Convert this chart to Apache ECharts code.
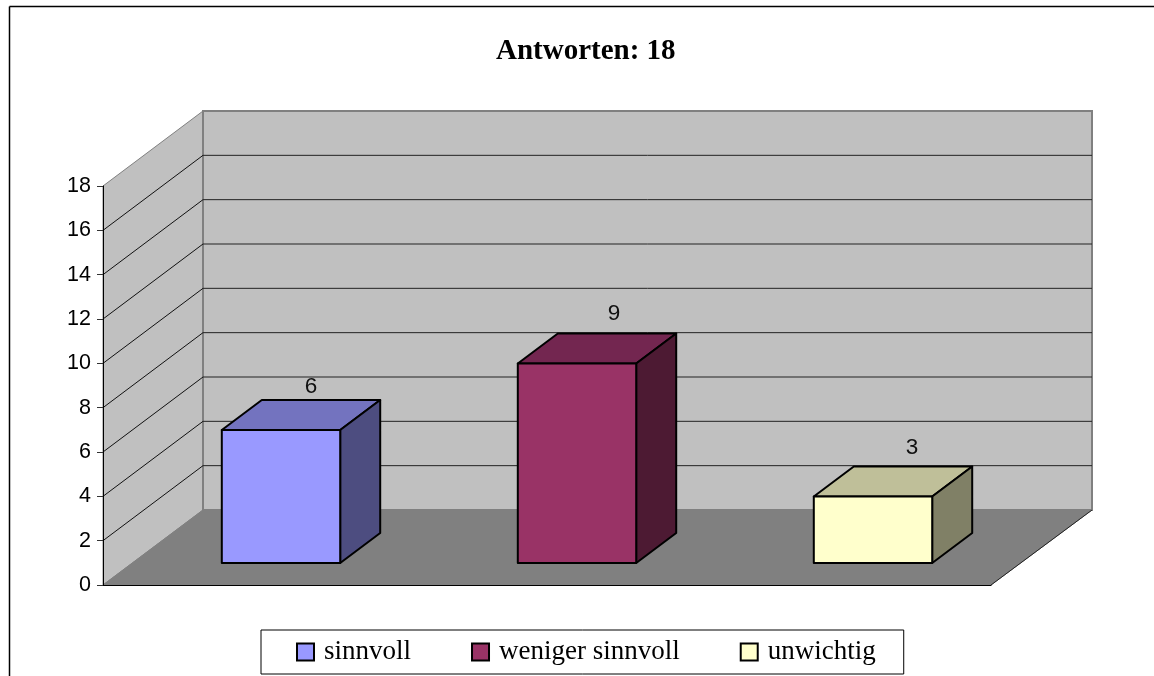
<!DOCTYPE html>
<html>
<head>
<meta charset="utf-8">
<title>Antworten: 18</title>
<style>
  html, body { margin: 0; padding: 0; background: #fff; overflow: hidden; }
  #chart { width: 1154px; height: 676px; }
</style>
<script src="https://cdn.jsdelivr.net/npm/echarts@6/dist/echarts.min.js"></script>
</head>
<body>
<div id="chart"></div>
<script>
const categories = ['sinnvoll', 'weniger sinnvoll', 'unwichtig'];
const answers = [6, 9, 3];
const barColors = ['#9999ff', '#993366', '#ffffcc'];
const barTops = ['#7373bf', '#732650', '#bfbf99'];
const barSides = ['#4d4d80', '#4d1a33', '#808066'];
const yTicks = [2, 4, 6, 8, 10, 12, 14, 16, 18];

// depth of the fake 3d box, in pixels
const DEPTH_X = 100;
const DEPTH_Y = -75;
// the value labels do not sit at the same spot on every bar
const LABEL_SHIFT = [[30, -13], [37, -20], [39, -19]];

function renderWalls(params, api) {
  const a = api.coord([0, 0]);
  const band = api.size([1, 0])[0];
  const left = a[0] - band / 2;
  const right = left + band * categories.length;
  const bottom = a[1];
  const top = api.coord([0, 18])[1];
  const backL = left + DEPTH_X;
  const backR = right + DEPTH_X + 1;
  const backB = bottom + DEPTH_Y;
  const backT = top + DEPTH_Y;
  return {
    type: 'group',
    children: [
      { type: 'polygon', shape: { points: [[left, top], [backL, backT], [backL, backB], [left, bottom]] },
        style: { fill: '#c0c0c0', stroke: '#808080', lineWidth: 1 } },
      { type: 'polygon', shape: { points: [[backL, backT], [backR, backT], [backR, backB], [backL, backB]] },
        style: { fill: '#c0c0c0', stroke: '#808080', lineWidth: 2 } },
      { type: 'polygon', shape: { points: [[left, bottom], [backL, backB], [backR, backB], [right, bottom]] },
        style: { fill: '#808080', stroke: '#808080', lineWidth: 1 } },
      { type: 'line', shape: { x1: right, y1: bottom, x2: backR, y2: backB },
        style: { stroke: '#222', lineWidth: 1 } }
    ]
  };
}

function renderGridLine(params, api) {
  const v = api.value(0);
  const p = api.coord([0, v]);
  const band = api.size([1, 0])[0];
  const left = p[0] - band / 2;
  const backL = left + DEPTH_X;
  const backR = left + band * categories.length + DEPTH_X + 1;
  const backY = p[1] + DEPTH_Y;
  const children = [];
  if (v < 18) {
    children.push({ type: 'line', shape: { x1: left, y1: p[1], x2: backL, y2: backY }, style: { stroke: '#111', lineWidth: 1 } });
    children.push({ type: 'line', shape: { x1: backL, y1: backY, x2: backR, y2: backY }, style: { stroke: '#222', lineWidth: 1 } });
  }
  return { type: 'group', children: children };
}

function renderBar(idx) {
  return function (params, api) {
    const top = api.coord([api.value(0), api.value(1)]);
    const zero = api.coord([api.value(0), 0]);
    const band = api.size([1, 0])[0];
    const w = band * 0.4;
    const x1 = top[0] - w / 2 + 30;
    const x2 = x1 + w;
    const yT = top[1] - 22;
    const yB = zero[1] - 22;
    const dx = 40;
    const dy = -30;
    const line = { stroke: '#000', lineWidth: 2, lineJoin: 'round' };
    return {
      type: 'group',
      children: [
        { type: 'polygon', shape: { points: [[x1, yT], [x1 + dx, yT + dy], [x2 + dx, yT + dy], [x2, yT]] },
          style: Object.assign({ fill: barTops[idx] }, line) },
        { type: 'polygon', shape: { points: [[x2, yT], [x2 + dx, yT + dy], [x2 + dx, yB + dy], [x2, yB]] },
          style: Object.assign({ fill: barSides[idx] }, line) },
        { type: 'rect', shape: { x: x1, y: yT, width: w, height: yB - yT },
          style: Object.assign({ fill: barColors[idx] }, line) },
        { type: 'text', x: (x1 + x2) / 2 + LABEL_SHIFT[idx][0], y: yT + dy + LABEL_SHIFT[idx][1],
          style: { text: String(api.value(1)), fill: '#111', font: '22.5px "Liberation Sans"', textAlign: 'center', textVerticalAlign: 'middle' } }
      ]
    };
  };
}

const barSeries = categories.map(function (name, i) {
  return {
    name: name,
    type: 'custom',
    z: 5,
    clip: false,
    silent: true,
    itemStyle: { color: barColors[i] },
    encode: { x: 0, y: 1 },
    renderItem: renderBar(i),
    data: [[i, answers[i]]]
  };
});

const chart = echarts.init(document.getElementById('chart'));
chart.setOption({
  animation: false,
  backgroundColor: '#fff',
  title: {
    text: 'Antworten: 18',
    left: 496,
    top: 37,
    padding: 0,
    textStyle: { fontFamily: 'Liberation Serif', fontSize: 29, fontWeight: 'bold', color: '#000' }
  },
  graphic: [
    { type: 'line', shape: { x1: 9.5, y1: 6.5, x2: 1154, y2: 6.5 }, style: { stroke: '#000', lineWidth: 1.5 } },
    { type: 'line', shape: { x1: 9.5, y1: 6.5, x2: 9.5, y2: 676 }, style: { stroke: '#000', lineWidth: 1.5 } }
  ],
  legend: {
    left: 261,
    top: 630,
    selectedMode: false,
    data: categories,
    icon: 'rect',
    itemWidth: 17,
    itemHeight: 17,
    itemGap: 60,
    padding: [8.5, 28, 8.5, 35],
    borderColor: '#000',
    borderWidth: 1,
    itemStyle: { borderColor: '#000', borderWidth: 2 },
    textStyle: { fontFamily: 'Liberation Serif', fontSize: 27, color: '#000', padding: [0, 0, 0, 5] }
  },
  grid: { left: 103, right: 163, top: 186, bottom: 91 },
  xAxis: {
    type: 'category',
    data: categories,
    z: 10,
    axisLabel: { show: false },
    axisTick: { show: false },
    axisLine: { lineStyle: { color: '#000', width: 1 } }
  },
  yAxis: {
    type: 'value',
    min: 0,
    max: 18,
    interval: 2,
    z: 10,
    splitLine: { show: false },
    axisLine: { show: true, lineStyle: { color: '#000', width: 1 } },
    axisTick: { show: true, length: 6, lineStyle: { color: '#333' } },
    axisLabel: { fontFamily: 'Liberation Sans', fontSize: 21.5, color: '#000', margin: 12 }
  },
  series: [
    { name: 'walls', type: 'custom', z: 1, clip: false, silent: true, renderItem: renderWalls, encode: { y: 0 }, data: [[0]] },
    { name: 'gridlines', type: 'custom', z: 2, clip: false, silent: true, renderItem: renderGridLine, encode: { y: 0 }, data: yTicks.map(function (t) { return [t]; }) }
  ].concat(barSeries)
});
</script>
</body>
</html>
